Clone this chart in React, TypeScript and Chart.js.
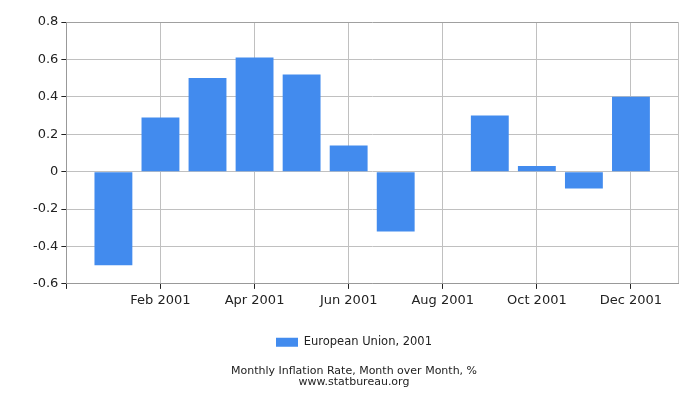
import React, { useEffect, useRef } from "react";
import { Chart, registerables } from "chart.js";

Chart.register(...registerables);

const months = ["Jan 2001", "Feb 2001", "Mar 2001", "Apr 2001", "May 2001", "Jun 2001", "Jul 2001", "Aug 2001", "Sep 2001", "Oct 2001", "Nov 2001", "Dec 2001"];
const values = [-0.5, 0.29, 0.5, 0.61, 0.52, 0.14, -0.32, 0, 0.3, 0.03, -0.09, 0.4];
const xTickPositions = [0, 2, 4, 6, 8, 10, 12, 13];
const seriesLabel = "European Union, 2001";
const titleLines = ["Monthly Inflation Rate, Month over Month, %", "www.statbureau.org"];

const FONT = "'DejaVu Sans', Verdana, sans-serif";

export default function App() {
  const ref = useRef<HTMLCanvasElement | null>(null);
  useEffect(() => {
    document.body.style.margin = "0";
    const ctx = ref.current!.getContext("2d")!;
    const chart = new Chart(ctx, {
      type: "bar",
      data: {
        datasets: [
          {
            label: seriesLabel,
            data: values.map((v, i) => ({ x: i + 1, y: v })),
            backgroundColor: "#428BEE",
            borderWidth: 0,
            barPercentage: 1,
            categoryPercentage: 0.805,
          },
        ],
      },
      options: {
        animation: false,
        responsive: false,
        devicePixelRatio: 1,
        layout: { padding: { top: 22, right: 22, left: 30, bottom: 12 } },
        scales: {
          x: {
            type: "linear",
            offset: false,
            min: 0,
            max: 13,
            afterBuildTicks: (scale: any) => {
              scale.ticks = xTickPositions.map((v) => ({ value: v }));
            },
            afterFit: (scale: any) => {
              scale.height += 10;
            },
            ticks: {
              autoSkip: false,
              maxRotation: 0,
              color: "#222",
              font: { family: FONT, size: 13 },
              padding: 4,
              callback: (v: any) => {
                const i = Number(v) - 1;
                return i >= 0 && i < months.length ? months[i] : "";
              },
            },
            grid: {
              offset: false,
              color: "#c0c0c0",
              tickLength: 5,
              tickColor: (c: any) => (c.tick && c.tick.value === 13 ? "rgba(0,0,0,0)" : "#222"),
            },
            border: { color: "#999" },
          },
          y: {
            min: -0.6,
            max: 0.8,
            ticks: {
              stepSize: 0.2,
              color: "#222",
              font: { family: FONT, size: 13 },
              padding: 3,
            },
            grid: {
              color: (c: any) => (c.tick && Math.abs(c.tick.value - 0.8) < 1e-6 ? "#a0a0a0" : "#c0c0c0"),
              tickLength: 5,
              tickColor: "#222",
            },
            border: { color: "#999" },
          },
        },
        plugins: {
          legend: {
            position: "bottom",
            labels: {
              boxWidth: 22,
              boxHeight: 9,
              color: "#222",
              font: { family: FONT, size: 11.5 },
              padding: 14,
            },
          },
          title: {
            display: true,
            position: "bottom",
            text: titleLines,
            color: "#222",
            font: { family: FONT, size: 11, weight: "normal", lineHeight: 1.0 },
            padding: { top: 8, bottom: 0 },
          },
          tooltip: { enabled: false },
        },
      },
    } as any);
    return () => chart.destroy();
  }, []);
  return (
    <div style={{ position: "absolute", left: 0, top: 0, width: 700, height: 400 }}>
      <canvas ref={ref} width={700} height={400} style={{ width: 700, height: 400 }} />
    </div>
  );
}
